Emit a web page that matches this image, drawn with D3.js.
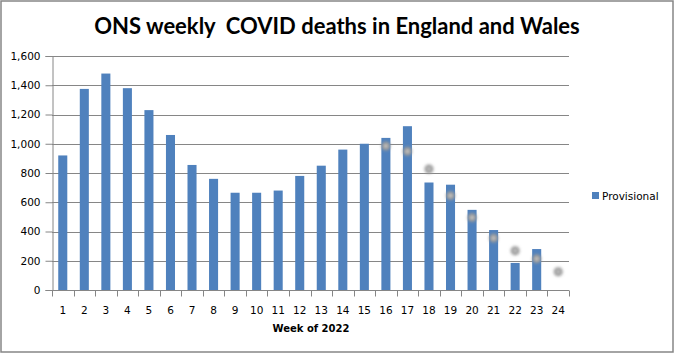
<!DOCTYPE html>
<html>
<head>
<meta charset="utf-8">
<script src="https://cdn.jsdelivr.net/npm/d3@7"></script>
<style>
  body { margin: 0; background: #fff; }
  text { font-family: Tahoma, "DejaVu Sans", sans-serif; }
</style>
</head>
<body>
<div id="chart-area"></div>
<script>
// chart data
var weeks = d3.range(1, 25).map(String);
var provisional = [920, 1375, 1480, 1380, 1230, 1060, 855, 760, 665, 665, 680, 780,
                   850, 960, 1000, 1040, 1120, 735, 720, 548, 410, 185, 280, null];
// faint grey markers (second, unlabelled series)
var markerWeeks = ["16", "17", "18", "19", "20", "21", "22", "23", "24"];
var markerValues = [985, 948, 827, 645, 495, 355, 268, 213, 125];
var yTicks = [0, 200, 400, 600, 800, 1000, 1200, 1400, 1600];

var W = 675, H = 354;
var margin = { top: 56, left: 52, right: 106, bottom: 64 };
var width = 569 - margin.left,
    height = 290 - margin.top;

var svg = d3.select("#chart-area")
    .append("svg")
        .attr("width", W)
        .attr("height", H);

// outer border
svg.append("rect")
    .attr("x", 1).attr("y", 1)
    .attr("width", W - 3).attr("height", H - 3)
    .attr("fill", "#fff")
    .attr("stroke", "#868686")
    .attr("stroke-width", 1.5);

var defs = svg.append("defs");
defs.append("filter")
    .attr("id", "blur")
    .attr("x", "-100%").attr("y", "-100%")
    .attr("width", "300%").attr("height", "300%")
  .append("feGaussianBlur")
    .attr("stdDeviation", 1.8);

svg.append("text")
    .attr("x", 337)
    .attr("y", 34)
    .attr("text-anchor", "middle")
    .style("font-family", "Lato, 'Open Sans', sans-serif")
    .style("font-weight", "bold")
    .style("font-size", "22px")
    .style("white-space", "pre")
    .attr("fill", "#000")
    .text("ONS weekly  COVID deaths in England and Wales");

var g = svg.append("g")
    .attr("transform", "translate(" + margin.left + "," + margin.top + ")");

var x = d3.scaleBand()
    .domain(weeks)
    .range([0, width])
    .paddingInner(0.58)
    .paddingOuter(0.29);

var y = d3.scaleLinear()
    .domain([0, 1600])
    .range([height, 0]);

// gridlines
g.append("g")
    .selectAll("line")
    .data(yTicks.slice(1))
    .enter()
    .append("line")
        .attr("x1", 0)
        .attr("x2", width)
        .attr("y1", d => Math.round(y(d)) + 0.5)
        .attr("y2", d => Math.round(y(d)) + 0.5)
        .attr("stroke", "#868686")
        .attr("stroke-width", 1);

// y axis
var yAxisCall = d3.axisLeft(y)
    .tickValues(yTicks)
    .tickSize(7)
    .tickPadding(5)
    .tickFormat(d3.format(","));
var yAxis = g.append("g")
    .attr("class", "y-axis")
    .attr("transform", "translate(0.5,0)")
    .call(yAxisCall);
yAxis.select(".domain").attr("stroke", "#868686");
yAxis.selectAll(".tick line").attr("stroke", "#868686");
yAxis.selectAll("text")
    .style("font-size", "10.5px")
    .attr("fill", "#000");

// bars
g.selectAll("rect.bar")
    .data(provisional.map((v, i) => ({ week: weeks[i], value: v })).filter(d => d.value != null))
    .enter()
    .append("rect")
        .attr("class", "bar")
        .attr("x", d => x(d.week))
        .attr("y", d => y(d.value))
        .attr("width", x.bandwidth())
        .attr("height", d => height - y(d.value))
        .attr("fill", "#4f81bd");

// x axis (ticks between categories)
var step = x.step();
var xb = g.append("g")
    .attr("class", "x-axis")
    .attr("transform", "translate(0," + (height + 0.5) + ")");
xb.append("line")
    .attr("x1", 0).attr("x2", width)
    .attr("stroke", "#868686");
xb.selectAll("line.tk")
    .data(d3.range(weeks.length + 1))
    .enter()
    .append("line")
        .attr("class", "tk")
        .attr("x1", i => Math.round(i * step) + 0.5)
        .attr("x2", i => Math.round(i * step) + 0.5)
        .attr("y1", 0).attr("y2", 6)
        .attr("stroke", "#868686");
xb.selectAll("text")
    .data(weeks)
    .enter()
    .append("text")
        .attr("x", d => x(d) + x.bandwidth() / 2)
        .attr("y", 23)
        .attr("text-anchor", "middle")
        .style("font-size", "10.5px")
        .attr("fill", "#000")
        .text(d => d);

svg.append("text")
    .attr("x", 311)
    .attr("y", 332)
    .attr("text-anchor", "middle")
    .style("font-size", "10px")
    .style("font-weight", "bold")
    .attr("fill", "#000")
    .text("Week of 2022");

// blurred grey markers
var mk = g.append("g").selectAll("g")
    .data(markerWeeks.map((w, i) => ({ week: w, value: markerValues[i] })))
    .enter()
    .append("g")
        .attr("transform", d => "translate(" + (x(d.week) + x.bandwidth() / 2) + "," + y(d.value) + ")");
mk.append("circle")
    .attr("r", 4.5)
    .attr("fill", "#9a9a9a")
    .attr("filter", "url(#blur)");
mk.append("circle")
    .attr("r", 1.8)
    .attr("fill", "#e6e6e6")
    .attr("opacity", 0.7)
    .attr("filter", "url(#blur)");

// legend
var lg = svg.append("g").attr("transform", "translate(592,192)");
lg.append("rect")
    .attr("width", 7).attr("height", 7)
    .attr("fill", "#4f81bd");
lg.append("text")
    .attr("x", 10)
    .attr("y", 8)
    .style("font-size", "10.5px")
    .attr("fill", "#000")
    .text("Provisional");
</script>
</body>
</html>
